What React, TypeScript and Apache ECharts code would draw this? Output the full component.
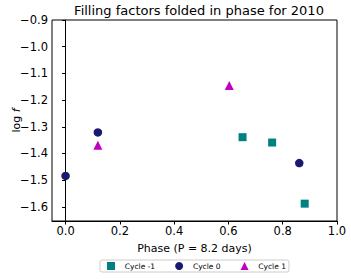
import React, { useEffect, useRef } from "react";
import * as echarts from "echarts";

const titleText = "Filling factors folded in phase for 2010";
const seriesNames = ["Cycle -1", "Cycle 0", "Cycle 1"];
const cycleM1Phase = [0.652, 0.761, 0.881];
const cycleM1LogF = [-1.339, -1.359, -1.588];
const cycle0Phase = [0.0, 0.119, 0.861];
const cycle0LogF = [-1.484, -1.321, -1.436];
const cycle1Phase = [0.119, 0.603];
const cycle1LogF = [-1.369, -1.145];
const xTicks = [0.0, 0.2, 0.4, 0.6, 0.8, 1.0];
const yTicks = [-1.6, -1.5, -1.4, -1.3, -1.2, -1.1, -1.0, -0.9];

const FONT = "DejaVu Sans";
const minus = (s: string) => s.replace("-", "\u2212");

export default function App() {
  const ref = useRef<HTMLDivElement>(null);
  useEffect(() => {
    if (!ref.current) return;
    const chart = echarts.init(ref.current, null, { renderer: "svg" });
    const pairs = (xs: number[], ys: number[]) => xs.map((x, i) => [x, ys[i]]);
    chart.setOption({
      animation: false,
      backgroundColor: "#ffffff",
      textStyle: { fontFamily: FONT },
      title: {
        text: titleText,
        left: 194,
        textAlign: "center",
        top: -1,
        textStyle: { fontFamily: FONT, fontSize: 13, fontWeight: "normal", color: "#000" },
      },
      grid: {
        left: 52,
        right: 14,
        top: 20,
        bottom: 58,
        outerBoundsMode: "none",
        containLabel: false,
        show: true,
        borderColor: "#000",
        borderWidth: 1,
        backgroundColor: "transparent",
      },
      xAxis: {
        type: "value",
        min: -0.05,
        max: 1.0,
        name: "Phase (P = 8.2 days)",
        nameLocation: "middle",
        nameGap: 22,
        nameMoveOverlap: false,
        nameTextStyle: { fontFamily: FONT, fontSize: 11, color: "#000" },
        splitLine: { show: false },
        axisLine: { lineStyle: { color: "#000" } },
        axisTick: { show: true, length: 3.5, inside: false, customValues: xTicks, lineStyle: { color: "#000" } },
        axisLabel: {
          customValues: xTicks,
          formatter: (v: number) => minus(v.toFixed(1)),
          fontFamily: FONT,
          fontSize: 11.5,
          color: "#000",
          margin: 4,
        },
      },
      yAxis: {
        type: "value",
        min: -1.653,
        max: -0.9,
        name: "log {i|f}",
        nameLocation: "middle",
        nameGap: 30,
        nameRotate: 90,
        nameMoveOverlap: false,
        nameTextStyle: {
          fontFamily: FONT,
          fontSize: 11,
          color: "#000",
          rich: { i: { fontStyle: "italic", fontFamily: FONT, fontSize: 11, color: "#000" } },
        },
        splitLine: { show: false },
        axisLine: { show: true, lineStyle: { color: "#000" } },
        axisTick: { show: true, length: 3.5, inside: false, customValues: yTicks, lineStyle: { color: "#000" } },
        axisLabel: {
          customValues: yTicks,
          formatter: (v: number) => minus(v.toFixed(1)),
          fontFamily: FONT,
          fontSize: 11.5,
          color: "#000",
          margin: 4,
        },
      },
      legend: {
        left: 100,
        top: 260,
        orient: "horizontal",
        itemWidth: 8,
        itemHeight: 8,
        itemGap: 20,
        padding: [2, 3, 2, 7],
        borderColor: "#cccccc",
        borderWidth: 1,
        borderRadius: 2,
        formatter: (name: string) => "  " + name,
        textStyle: { fontFamily: FONT, fontSize: 7.5, color: "#000" },
        data: seriesNames,
      },
      series: [
        {
          name: seriesNames[0],
          type: "scatter",
          symbol: "rect",
          symbolSize: 8,
          itemStyle: { color: "#008080", opacity: 1 },
          data: pairs(cycleM1Phase, cycleM1LogF),
        },
        {
          name: seriesNames[1],
          type: "scatter",
          symbol: "circle",
          symbolSize: 8.5,
          itemStyle: { color: "#191970", opacity: 1 },
          data: pairs(cycle0Phase, cycle0LogF),
        },
        {
          name: seriesNames[2],
          type: "scatter",
          symbol: "triangle",
          symbolSize: 9,
          itemStyle: { color: "#bf00bf", opacity: 1 },
          data: pairs(cycle1Phase, cycle1LogF),
        },
      ],
    });
    return () => chart.dispose();
  }, []);
  return (
    <div style={{ position: "absolute", left: 0, top: 0 }}>
      <div ref={ref} style={{ width: 351, height: 279 }} />
    </div>
  );
}
